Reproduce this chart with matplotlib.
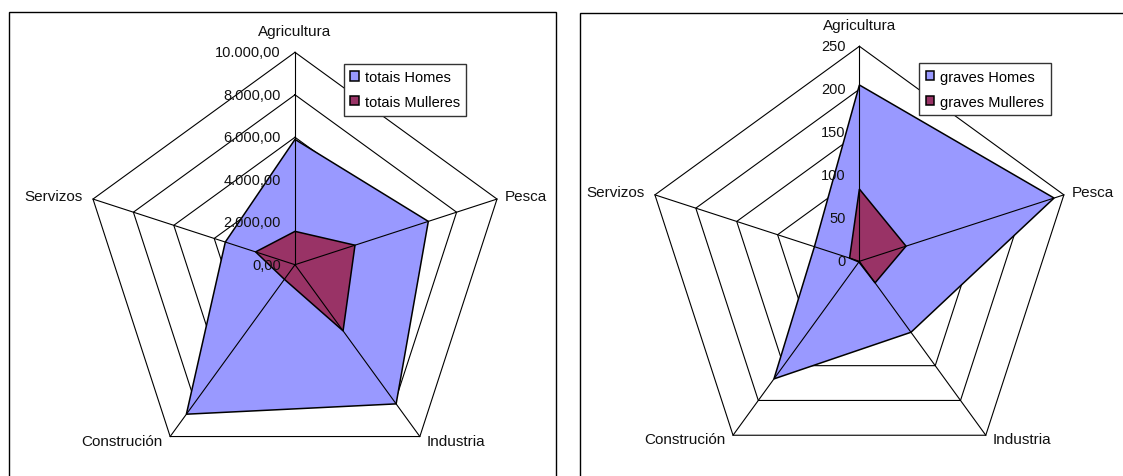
import numpy as np
import matplotlib
matplotlib.use('Agg')
import matplotlib.pyplot as plt
from matplotlib.patches import Rectangle

plt.rcParams['font.family'] = ['Liberation Sans', 'DejaVu Sans']
plt.rcParams['font.size'] = 10.5

# ============ datos ============
categorias = ['Agricultura', 'Pesca', 'Industria', 'Construción', 'Servizos']
totais_homes = [5900, 6600, 8100, 8700, 3450]
totais_mulleres = [1570, 2970, 3850, 850, 1950]
graves_homes = [205, 238, 102, 169, 55]
graves_mulleres = [84, 57, 31, 1, 12]
ticks_totais = [0, 2000, 4000, 6000, 8000, 10000]
ticks_graves = [0, 50, 100, 150, 200, 250]

W, H = 1123, 477
fig = plt.figure(figsize=(W / 100, H / 100), dpi=100)


def fmt_totais(v):
    # formato galego: 10.000,00
    return f"{v:,.2f}".replace(',', 'X').replace('.', ',').replace('X', '.')


def fmt_graves(v):
    return f"{v:d}"


# desprazamentos das etiquetas de categoría (px)
label_pos = [((0, 21), 'center'), ((8, 3), 'left'), ((7, -4), 'left'),
             ((-8, -4), 'right'), ((-10, 3), 'right')]


def radar(cx, cy, R, homes, mulleres, ticks, fmt, nomes, leg_xy):
    ax = fig.add_axes([(cx - R) / W, (H - cy - R) / H, 2 * R / W, 2 * R / H],
                      projection='polar')
    ax.set_theta_zero_location('N')
    ax.set_theta_direction(-1)
    ax.set_ylim(0, ticks[-1])
    ax.set_axis_off()

    ang = np.linspace(0, 2 * np.pi, len(categorias), endpoint=False)
    ang_c = np.append(ang, ang[0])

    for t in ticks[1:]:
        ax.plot(ang_c, [t] * len(ang_c), color='black', lw=0.8, zorder=1, clip_on=False)

    ax.fill(ang_c, homes + homes[:1], facecolor='#9999FF', edgecolor='black',
            lw=1.1, zorder=2, label=nomes[0], clip_on=False)
    ax.fill(ang_c, mulleres + mulleres[:1], facecolor='#993366', edgecolor='black',
            lw=1.1, zorder=3, label=nomes[1], clip_on=False)

    for a in ang:
        ax.plot([a, a], [0, ticks[-1]], color='black', lw=0.8, zorder=4, clip_on=False)

    for t in ticks:
        ax.annotate(fmt(t), xy=(0, t), xytext=(-14, 0), textcoords='offset pixels',
                    ha='right', va='center', zorder=5, color='#111111')

    for a, cat, (off, ha) in zip(ang, categorias, label_pos):
        ax.annotate(cat, xy=(a, ticks[-1]), xytext=off, textcoords='offset pixels',
                    ha=ha, va='center', color='#111111', fontsize=11)

    leg = ax.legend(loc='upper left', bbox_to_anchor=(leg_xy[0] / W, 1 - leg_xy[1] / H),
                    bbox_transform=fig.transFigure, fancybox=False, framealpha=1,
                    edgecolor='#333333', handlelength=0.6, handleheight=0.6,
                    handletextpad=0.4, labelspacing=0.75, borderpad=0.45,
                    borderaxespad=0)
    leg.get_frame().set_linewidth(1.0)
    return ax


radar(295, 265.7, 212.4, totais_homes, totais_mulleres, ticks_totais, fmt_totais,
      ['totais Homes', 'totais Mulleres'], (343.6, 64.5))
radar(859.4, 262.3, 215, graves_homes, graves_mulleres, ticks_graves, fmt_graves,
      ['graves Homes', 'graves Mulleres'], (919, 64))

# marcos dos gráficos
fig.add_artist(Rectangle((9 / W, -0.05), 547 / W, (H - 12.7) / H + 0.05,
                         transform=fig.transFigure, fill=False, edgecolor='black', lw=1.0))
fig.add_artist(Rectangle((580 / W, -0.05), 0.6, (H - 14) / H + 0.05,
                         transform=fig.transFigure, fill=False, edgecolor='black', lw=1.0))

fig.savefig('out.png', dpi=100)
